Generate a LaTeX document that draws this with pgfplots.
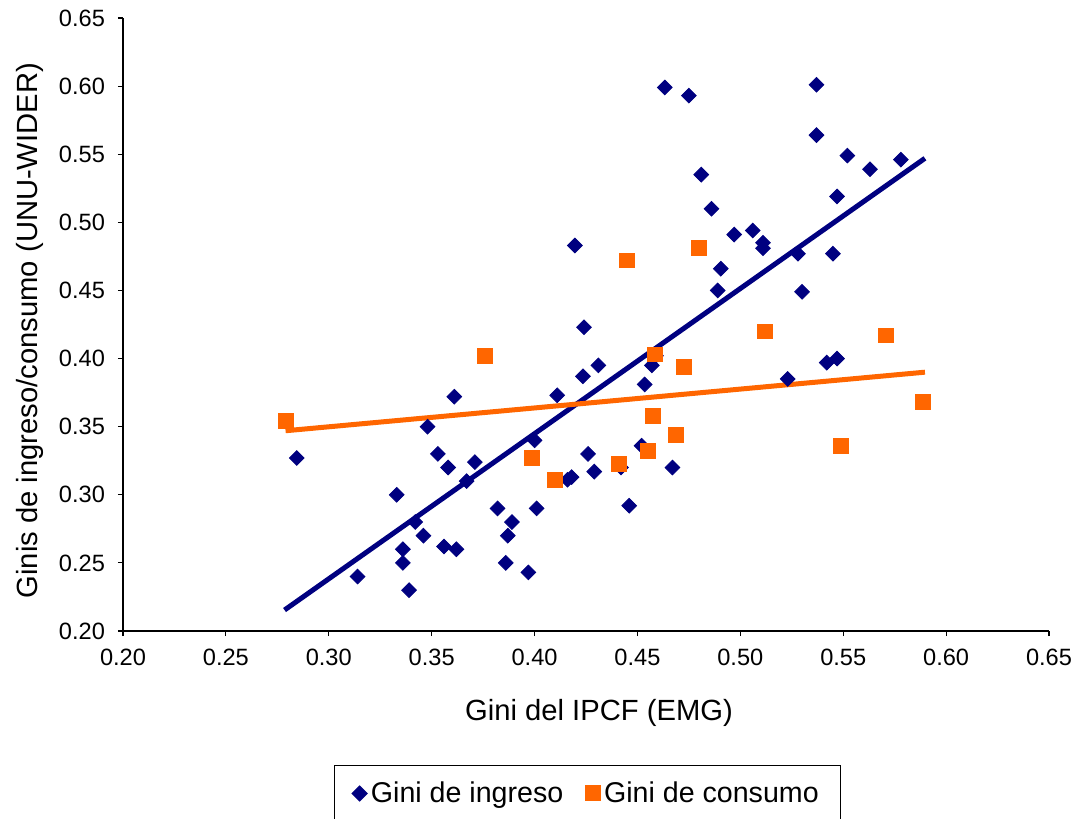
\documentclass[border=0pt]{standalone}
\usepackage{pgfplots}
\pgfplotsset{compat=1.18}
\usepackage{fontspec}
\setmainfont{Liberation Sans}
\definecolor{navy}{RGB}{0,0,128}
\definecolor{orng}{RGB}{255,102,0}
\begin{document}
\begin{tikzpicture}
\path[use as bounding box] (-61.5pt,-93.5pt) rectangle (478pt,315.5pt);
\begin{axis}[
  at={(0pt,0pt)}, anchor=south west,
  scale only axis, width=463pt, height=306.5pt,
  xmin=0.20, xmax=0.65, ymin=0.20, ymax=0.65,
  xtick={0.20,0.25,...,0.65}, ytick={0.20,0.25,...,0.65},
  axis x line=bottom, axis y line=left,
  axis line style={-, black, line width=0.6pt},
  tick style={black, line width=0.6pt},
  tick align=outside, major tick length=2.5pt,
  /pgf/number format/.cd, fixed, fixed zerofill, precision=2, assume math mode=true,
  /pgfplots/.cd,
  ticklabel style={font=\fontsize{11.8}{14}\selectfont},
  xticklabel style={yshift=-3pt},
  yticklabel style={xshift=-3pt},
  xlabel={Gini del IPCF (EMG)},
  ylabel={Ginis de ingreso/consumo (UNU-WIDER)},
  label style={font=\fontsize{14.6}{17}\selectfont},
  xlabel style={at={(axis description cs:0.514,-0.1338)}, anchor=center},
  ylabel style={at={(axis description cs:-0.1004,0.49)}, anchor=center},
  legend columns=2,
  legend style={at={(axis description cs:0.5016,-0.2186)}, anchor=north,
    draw=black, line width=0.6pt, font=\fontsize{14.3}{16}\selectfont,
    inner ysep=6pt, inner xsep=9pt,
    /tikz/every even column/.append style={column sep=9pt}},
  legend image code/.code={\draw[#1] plot coordinates {(0.15cm,0cm)};},
  clip=false,
]
\addplot[navy, line width=2.5pt, forget plot] coordinates {(0.2785,0.2154) (0.5897,0.547)};
\addplot[orng, line width=2.5pt, forget plot] coordinates {(0.279,0.347) (0.5897,0.390)};
\addplot[only marks, mark=square*, mark size=2.6pt, navy, mark options={fill=navy, draw=navy, rotate=45}] coordinates {
(0.2844,0.327) (0.314,0.240) (0.333,0.300) (0.336,0.260) (0.336,0.250)
(0.339,0.230) (0.342,0.280) (0.346,0.270) (0.348,0.350) (0.353,0.330)
(0.356,0.262) (0.358,0.320) (0.361,0.372) (0.362,0.260) (0.367,0.310)
(0.371,0.324) (0.382,0.290) (0.387,0.270) (0.389,0.280) (0.386,0.250)
(0.397,0.243) (0.400,0.340) (0.401,0.290) (0.411,0.373) (0.416,0.311)
(0.418,0.313) (0.4196,0.483) (0.424,0.423) (0.4235,0.387) (0.426,0.330)
(0.429,0.317) (0.431,0.395) (0.442,0.320) (0.446,0.292) (0.452,0.336)
(0.4535,0.381) (0.457,0.395) (0.459,0.402) (0.4633,0.599) (0.467,0.320)
(0.475,0.593) (0.481,0.535) (0.486,0.510) (0.489,0.450) (0.4905,0.466)
(0.497,0.491) (0.506,0.494) (0.511,0.485) (0.511,0.481) (0.523,0.385)
(0.528,0.477) (0.530,0.449) (0.537,0.564) (0.537,0.601) (0.542,0.397)
(0.547,0.400) (0.545,0.477) (0.547,0.519) (0.552,0.549) (0.563,0.539)
(0.578,0.546)
};
\addlegendentry{Gini de ingreso}
\addplot[only marks, mark=square*, mark size=3.7pt, orng, mark options={fill=orng, draw=orng}] coordinates {
(0.279,0.354) (0.376,0.402) (0.3986,0.327) (0.410,0.311) (0.441,0.3226)
(0.445,0.472) (0.455,0.332) (0.4576,0.358) (0.4583,0.403) (0.4686,0.344)
(0.4725,0.394) (0.480,0.481) (0.512,0.420) (0.5487,0.336) (0.5706,0.417)
(0.5887,0.368)
};
\addlegendentry{Gini de consumo}
\end{axis}
\end{tikzpicture}
\end{document}
